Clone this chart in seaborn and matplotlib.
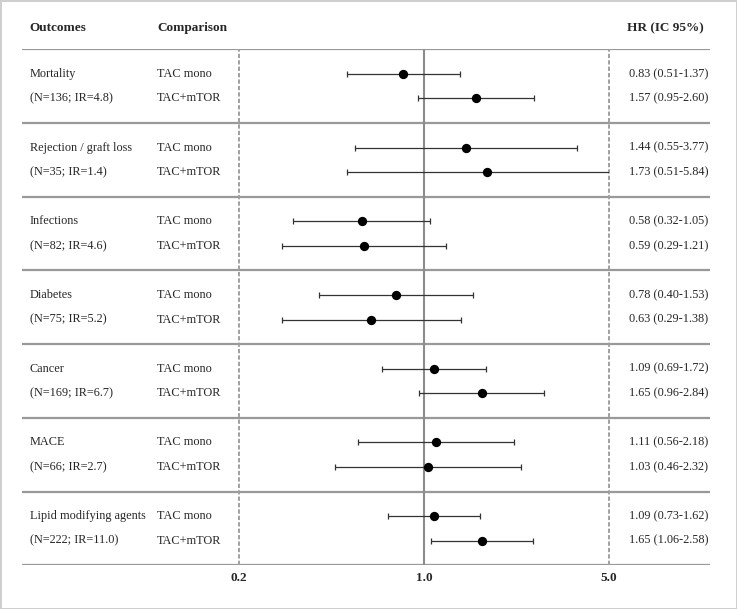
import numpy as np
import pandas as pd
import seaborn as sns
import matplotlib.pyplot as plt

outcomes = ["Mortality", "Rejection / graft loss", "Infections", "Diabetes",
            "Cancer", "MACE", "Lipid modifying agents"]
subtitles = ["(N=136; IR=4.8)", "(N=35; IR=1.4)", "(N=82; IR=4.6)", "(N=75; IR=5.2)",
             "(N=169; IR=6.7)", "(N=66; IR=2.7)", "(N=222; IR=11.0)"]
comparisons = ["TAC mono", "TAC+mTOR"]

hr_mono = [0.83, 1.44, 0.58, 0.78, 1.09, 1.11, 1.09]
lo_mono = [0.51, 0.55, 0.32, 0.40, 0.69, 0.56, 0.73]
hi_mono = [1.37, 3.77, 1.05, 1.53, 1.72, 2.18, 1.62]

hr_mtor = [1.57, 1.73, 0.59, 0.63, 1.65, 1.03, 1.65]
lo_mtor = [0.95, 0.51, 0.29, 0.29, 0.96, 0.46, 1.06]
hi_mtor = [2.60, 5.84, 1.21, 1.38, 2.84, 2.32, 2.58]

ticks = [0.2, 1.0, 5.0]

sns.set_style("white")
plt.rcParams['font.family'] = ['Liberation Serif', 'DejaVu Serif']

rows = []
for i, name in enumerate(outcomes):
    rows.append(dict(outcome=name, comp=comparisons[0], hr=hr_mono[i],
                     lo=lo_mono[i], hi=hi_mono[i], y=3 * i + 1))
    rows.append(dict(outcome=name, comp=comparisons[1], hr=hr_mtor[i],
                     lo=lo_mtor[i], hi=hi_mtor[i], y=3 * i + 2))
df = pd.DataFrame(rows)
n_groups = len(outcomes)
ymax = 3 * n_groups

W, H = 737, 609
fig = plt.figure(figsize=(W / 100, H / 100), dpi=100,
                 edgecolor='#cfcfcf', linewidth=2)

top, bottom = 49.3, 565.3
left, right = 22, 710
x02, x5 = 239.3, 609

# table axes
ax_t = fig.add_axes([left / W, 1 - bottom / H, (right - left) / W, (bottom - top) / H])
ax_t.set_xlim(0, 1)
ax_t.set_ylim(ymax, 0)
ax_t.axis('off')

# forest axes
ax_f = fig.add_axes([x02 / W, 1 - bottom / H, (x5 - x02) / W, (bottom - top) / H])
ax_f.set_xscale('log')
ax_f.set_xlim(ticks[0], ticks[-1])
ax_f.set_ylim(ymax, 0)
ax_f.patch.set_alpha(0)
for s in ax_f.spines.values():
    s.set_visible(False)
ax_f.set_yticks([])
ax_f.set_xticks([])
ax_f.minorticks_off()

for k in range(n_groups + 1):
    ax_t.axhline(3 * k, color='#999999', lw=1.6, zorder=1)

ax_f.axvline(1.0, color='#8c8c8c', lw=1.5, zorder=1)
for t in (ticks[0], ticks[-1]):
    ax_f.axvline(t, color='#a0a0a0', lw=1.4, ls=(0, (2.2, 1.1)), zorder=1, clip_on=False)

ax_f.errorbar(df['hr'], df['y'],
              xerr=[df['hr'] - df['lo'], df['hi'] - df['hr']],
              fmt='none', ecolor='#333333', elinewidth=0.9, capsize=2.5,
              capthick=0.9, zorder=2)
sns.scatterplot(data=df, x='hr', y='y', ax=ax_f, color='black', s=45,
                edgecolor='black', linewidth=0, zorder=3, legend=False)
ax_f.set_xlabel('')
ax_f.set_ylabel('')

fs = 8.8
hfs = 9.5
trans = ax_t.get_yaxis_transform()
ax_t.text(0.011, -0.86, "Outcomes", transform=trans, fontsize=hfs, fontweight='bold', va='center')
ax_t.text(0.197, -0.86, "Comparison", transform=trans, fontsize=hfs, fontweight='bold', va='center')
ax_t.text(0.879, -0.86, "HR (IC 95%)", transform=trans, fontsize=hfs, fontweight='bold', va='center')

for i in range(n_groups):
    ax_t.text(0.011, 3 * i + 1, outcomes[i], transform=trans, fontsize=fs, va='center')
    ax_t.text(0.011, 3 * i + 2, subtitles[i], transform=trans, fontsize=fs, va='center')

for _, r in df.iterrows():
    ax_t.text(0.196, r['y'], r['comp'], transform=trans, fontsize=fs, va='center')
    ax_t.text(0.882, r['y'], f"{r['hr']:.2f} ({r['lo']:.2f}-{r['hi']:.2f})",
              transform=trans, fontsize=fs, va='center')

ftrans = ax_f.get_xaxis_transform()
for t in ticks:
    ax_f.text(t, -0.0246, f"{t:.1f}", transform=ftrans, ha='center', va='center',
              fontsize=hfs, fontweight='bold')

fig.savefig("out.png", dpi=100)
plt.close(fig)
